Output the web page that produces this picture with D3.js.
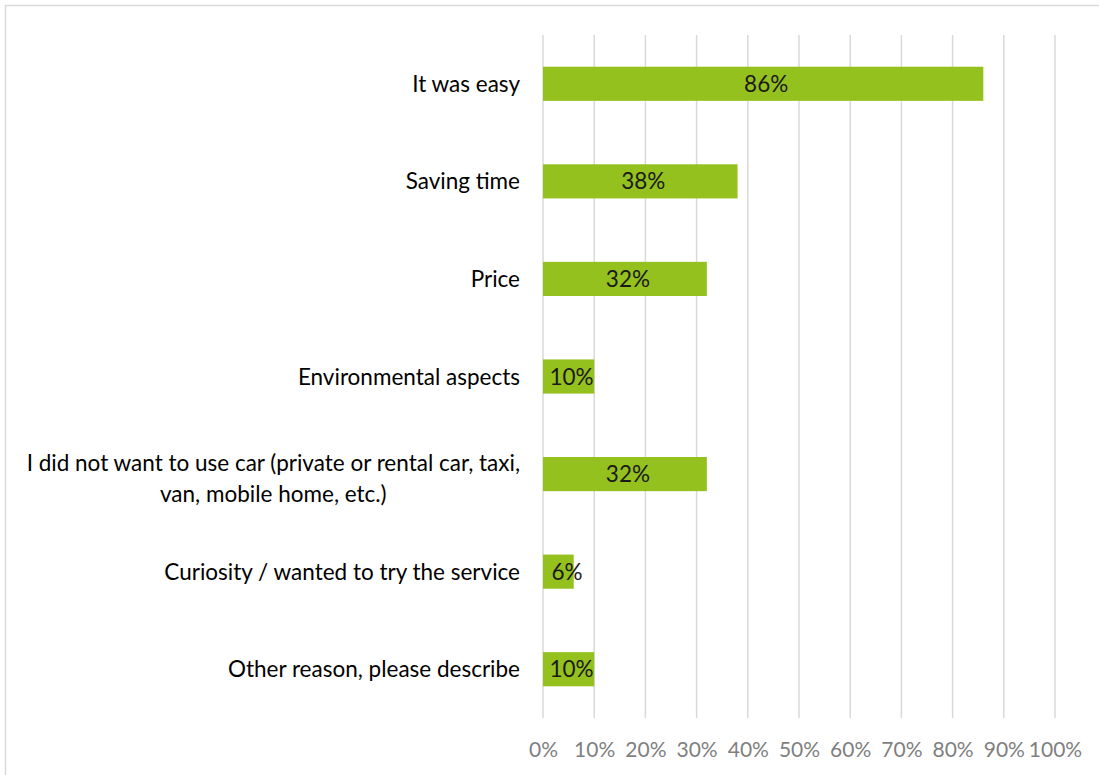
<!DOCTYPE html>
<html>
<head>
<meta charset="utf-8">
<script src="https://cdn.jsdelivr.net/npm/d3@7"></script>
<style>
  body { margin: 0; background: #fff; }
  text { font-family: Lato, "Open Sans", sans-serif; }
</style>
</head>
<body>
<div id="chart"></div>
<script>
'use strict';

// survey answers, top to bottom
var reasons = [
  ['It was easy'],
  ['Saving time'],
  ['Price'],
  ['Environmental aspects'],
  ['I did not want to use car (private or rental car, taxi,', 'van, mobile home, etc.)'],
  ['Curiosity / wanted to try the service'],
  ['Other reason, please describe']
];
var shares = [86, 38, 32, 10, 32, 6, 10];
var tickValues = [0, 10, 20, 30, 40, 50, 60, 70, 80, 90, 100];

var visW = 1099, visH = 775;
var plotL = 543, plotR = 1055, plotT = 35, plotB = 718;

var barColor = '#95c11f',
  gridColor = '#d9d9d9',
  axisTextColor = '#7f7f7f';

var svg = d3.select('#chart')
  .append('svg')
  .attr('width', visW)
  .attr('height', visH);

// outer frame (cut off on the right and bottom)
svg.append('rect')
  .attr('x', 5.5)
  .attr('y', 5.5)
  .attr('width', visW + 20)
  .attr('height', visH + 20)
  .style('fill', 'none')
  .style('stroke', gridColor)
  .style('stroke-width', 1.5);

var x = d3.scaleLinear().domain([0, 100]).range([plotL, plotR]);
var y = d3.scaleBand()
  .domain(d3.range(reasons.length))
  .range([plotT, plotB])
  .paddingInner(0.65)
  .paddingOuter(0.325);

// vertical gridlines
svg.append('g')
  .selectAll('line')
  .data(tickValues)
  .enter().append('line')
  .attr('x1', function(d) { return x(d); })
  .attr('x2', function(d) { return x(d); })
  .attr('y1', plotT)
  .attr('y2', plotB)
  .style('stroke', gridColor)
  .style('stroke-width', 1.5);

// x axis labels
var xAxis = d3.axisBottom(x)
  .tickValues(tickValues)
  .tickSize(0)
  .tickPadding(0)
  .tickFormat(function(d) { return d + '%'; });

var axisG = svg.append('g')
  .attr('transform', 'translate(0,' + (plotB + 24) + ')')
  .call(xAxis);
axisG.select('.domain').remove();
axisG.selectAll('text')
  .attr('font-size', 21)
  .style('font-family', 'Lato, "Open Sans", sans-serif')
  .style('fill', axisTextColor);

// bars
svg.append('g')
  .selectAll('rect')
  .data(shares)
  .enter().append('rect')
  .attr('x', x(0))
  .attr('y', function(d, i) { return y(i); })
  .attr('width', function(d) { return x(d) - x(0); })
  .attr('height', y.bandwidth())
  .style('fill', barColor);

// value labels
svg.append('g')
  .selectAll('text')
  .data(shares)
  .enter().append('text')
  .attr('x', function(d) { return Math.max((x(0) + x(d)) / 2.0 + 3, x(0) + 24); })
  .attr('y', function(d, i) { return y(i) + y.bandwidth() / 2.0; })
  .attr('dy', '0.36em')
  .attr('text-anchor', 'middle')
  .attr('font-size', 22.5)
  .style('fill', '#1a1a1a')
  .text(function(d) { return d + '%'; });

// category labels
var labelG = svg.append('g')
  .selectAll('text')
  .data(reasons)
  .enter().append('text')
  .attr('font-size', 22.5)
  .style('fill', '#000')
  .attr('transform', function(d, i) {
    return 'translate(520,' + (y(i) + y.bandwidth() / 2.0) + ')';
  });

labelG.each(function(lines) {
  var t = d3.select(this);
  var lineH = 31;
  var start = -(lines.length - 1) * lineH / 2.0 + (lines.length > 1 ? 4 : 0);
  var firstW = 0;
  lines.forEach(function(line, j) {
    var ts = t.append('tspan')
      .attr('y', start + j * lineH)
      .attr('dy', '0.36em')
      .text(line);
    if (j === 0) {
      ts.attr('x', 0).attr('text-anchor', 'end');
      firstW = ts.node().getComputedTextLength();
    } else {
      ts.attr('x', -firstW / 2.0).attr('text-anchor', 'middle');
    }
  });
});
</script>
</body>
</html>
